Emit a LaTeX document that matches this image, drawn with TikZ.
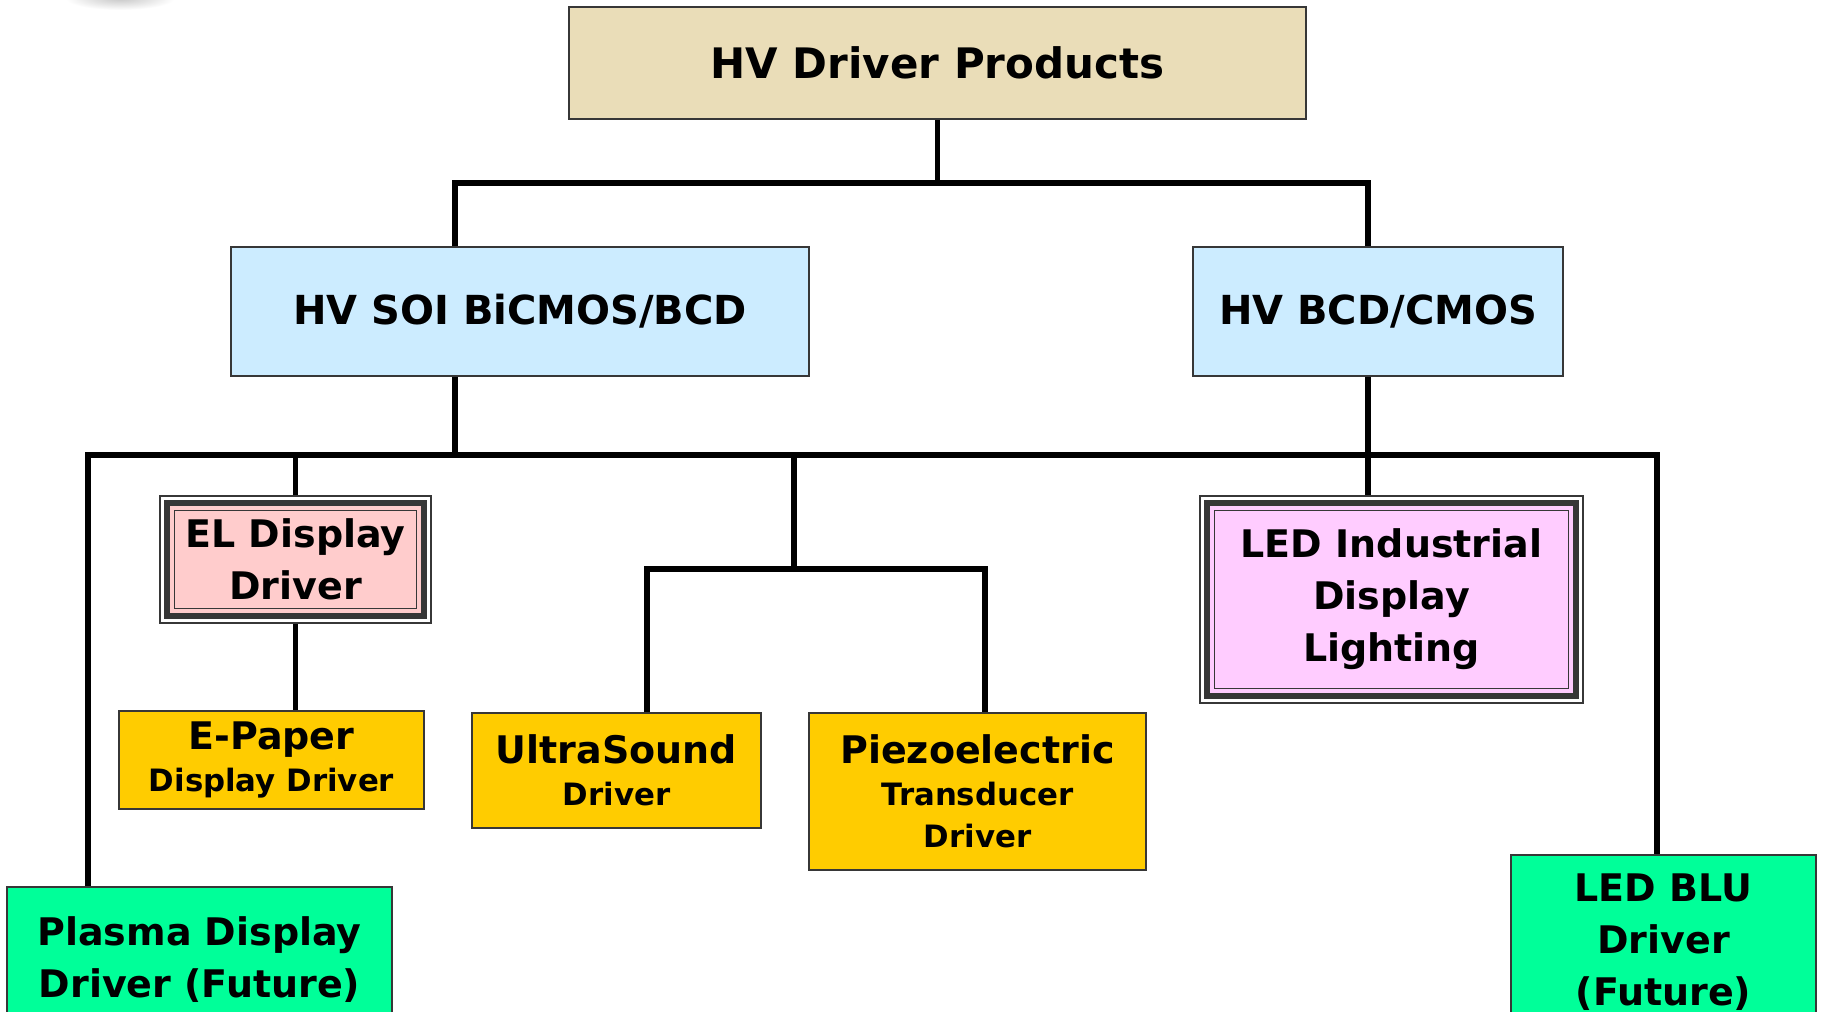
\documentclass[tikz,border=0pt]{standalone}
\usepackage{fontspec}
\setmainfont{DejaVu Sans}

\definecolor{parchment}{RGB}{234,221,184}
\definecolor{techblue}{RGB}{204,236,255}
\definecolor{elpink}{RGB}{255,204,204}
\definecolor{prodyellow}{RGB}{255,204,0}
\definecolor{ledpink}{RGB}{255,204,255}
\definecolor{futgreen}{RGB}{0,255,153}
\definecolor{edge}{RGB}{55,55,55}

\newcommand\bigtxt{\fontsize{38}{52}\selectfont\bfseries}
\newcommand\smalltxt{\fontsize{30.8}{42}\selectfont\bfseries}
\newcommand\bigline[1]{{\fontsize{38}{42}\selectfont #1}}

\tikzset{
  box/.style={draw=edge, line width=1.5pt, inner sep=0pt, align=center, font=\bigtxt},
  subbox/.style={box, fill=prodyellow, font=\smalltxt},
  framedbox/.style={box, fill=white, path picture={
      \fill[#1] ([xshift=7pt,yshift=-7pt]path picture bounding box.north west)
        rectangle ([xshift=-7pt,yshift=7pt]path picture bounding box.south east);
      \draw[line width=6pt] ([xshift=7pt,yshift=-7pt]path picture bounding box.north west)
        rectangle ([xshift=-7pt,yshift=7pt]path picture bounding box.south east);
      \draw[line width=1.2pt, edge] ([xshift=14.5pt,yshift=-14.5pt]path picture bounding box.north west)
        rectangle ([xshift=-14.5pt,yshift=14.5pt]path picture bounding box.south east);
    }},
  wire/.style={line width=5.2pt}
}

\begin{document}
\begin{tikzpicture}[x=1pt,y=-1pt]
  \path[use as bounding box] (0,0) rectangle (1826,1012);
  \clip (0,0) rectangle (1826,1012);
  \fill[white] (0,0) rectangle (1826,1012);
  \shade[inner color=gray!45, outer color=white] (120,-2) ellipse [x radius=55, y radius=12];

  % boxes
  \node[box, fill=parchment, minimum width=737pt, minimum height=112pt,
        font=\fontsize{42}{52}\selectfont\bfseries] (top) at (937.5,63) {HV Driver Products};
  \node[box, fill=techblue, minimum width=578pt, minimum height=129pt,
        font=\fontsize{40}{52}\selectfont\bfseries] (soi) at (520,311.5) {HV SOI BiCMOS/BCD};
  \node[box, fill=techblue, minimum width=370pt, minimum height=129pt,
        font=\fontsize{40}{52}\selectfont\bfseries] (bcd) at (1378,311.5) {HV BCD/CMOS};

  \node[framedbox=elpink, minimum width=271pt, minimum height=127pt] (el) at (295.5,559.5) {EL Display\\Driver};
  \node[framedbox=ledpink, minimum width=383pt, minimum height=207pt] (led) at (1391.5,599.5) {LED Industrial\\Display\\Lighting};

  \node[subbox, minimum width=305pt, minimum height=98pt] (epaper) at (271.5,760) {\bigline{E-Paper}\\Display Driver};
  \node[subbox, minimum width=289pt, minimum height=115pt] (ultra) at (616.5,770.5) {\bigline{UltraSound}\\Driver};
  \node[subbox, minimum width=337pt, minimum height=157pt] (piezo) at (977.5,791.5) {\bigline{Piezoelectric}\\Transducer\\Driver};

  \node[box, fill=futgreen, minimum width=385pt, minimum height=146pt] (plasma) at (199.5,960) {Plasma Display\\Driver (Future)};
  \node[box, fill=futgreen, minimum width=305pt, minimum height=174pt] (blu) at (1663.5,942) {LED BLU\\Driver\\(Future)};

  % junctions
  \coordinate (hub1) at (937,183);
  \coordinate (hubl) at (88,455);
  \coordinate (hubr) at (1657,455);
  \coordinate (soidrop) at (455,455);
  \coordinate (bcddrop) at (1368,455);
  \coordinate (middrop) at (794,455);
  \coordinate (hub3) at (794,569);
  \coordinate (usdrop) at (647,569);
  \coordinate (pzdrop) at (985,569);

  % connectors
  \draw[wire] (top.south) -- (top.south |- hub1);
  \draw[wire] (soi.north -| soidrop) |- (hub1) -| (bcd.north -| bcddrop);
  \draw[wire] (soi.south -| soidrop) -- (soidrop);
  \draw[wire] (bcd.south -| bcddrop) -- (led.north -| bcddrop);
  \draw[wire] (plasma.north -| hubl) -- (hubl) -- (hubr) -- (blu.north -| hubr);
  \draw[wire] (el.north) -- (el.north |- hubl);
  \draw[wire] (el.south) -- (el.south |- epaper.north);
  \draw[wire] (middrop) -- (hub3);
  \draw[wire] (ultra.north -| usdrop) |- (hub3) -| (piezo.north -| pzdrop);
\end{tikzpicture}
\end{document}
